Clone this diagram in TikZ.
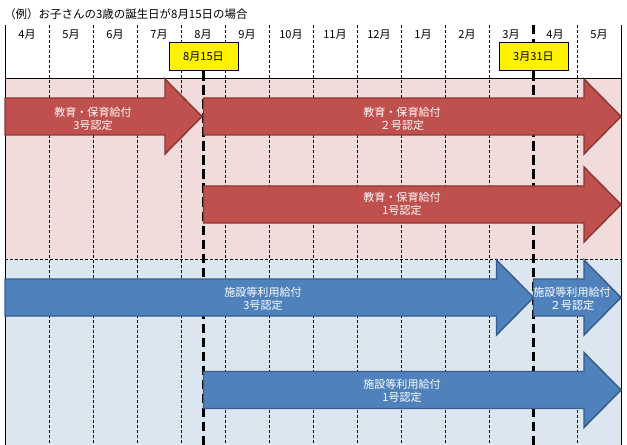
\documentclass[tikz,border=0pt]{standalone}
\usepackage{fontspec}
\setmainfont{Noto Sans CJK JP}
\usepackage{xcolor}
\usepackage{tikz}
\usetikzlibrary{positioning}

\definecolor{pinkbg}{HTML}{F2DCDB}
\definecolor{bluebg}{HTML}{DCE6F1}
\definecolor{redfill}{HTML}{C0504D}
\definecolor{redline}{HTML}{8C3836}
\definecolor{bluefill}{HTML}{4F81BD}
\definecolor{blueline}{HTML}{385D8A}

% band arrow: style, x start, x tip, y centre
\newcommand{\bandarrow}[4]{%
  \draw[#1] (#2,#4-18.5) -- (#3-37,#4-18.5) -- (#3-37,#4-37.5) -- (#3,#4)
    -- (#3-37,#4+37.5) -- (#3-37,#4+18.5) -- (#2,#4+18.5) -- cycle;}

\begin{document}
\begin{tikzpicture}[
        x=0.75pt, y=-0.75pt,
        font=\fontsize{8.3}{9.8}\selectfont,
        grid/.style={line width=0.75pt, dash pattern=on 2.25pt off 1.5pt},
        deadline/.style={line width=1.9pt, dash pattern=on 7pt off 3.5pt},
        frame/.style={line width=0.75pt},
        month/.style={inner sep=0pt},
        datebox/.style={draw, fill=yellow, line width=0.75pt, minimum width=51.75pt,
            minimum height=21pt, inner sep=0pt},
        redarr/.style={fill=redfill, draw=redline, line width=1.1pt, line join=miter},
        bluearr/.style={fill=bluefill, draw=blueline, line width=1.1pt, line join=miter},
        lbl/.style={text=white, align=center, inner sep=0pt},
    ]
        \useasboundingbox (0,0) rectangle (627,445);

        % title
        \node[anchor=west, inner sep=0pt, font=\fontsize{8.6}{10}\selectfont] (title) at (4,14)
            {（例）お子さんの3歳の誕生日が8月15日の場合};

        % background bands
        \fill[pinkbg] (5,79) rectangle (621,259);
        \fill[bluebg] (5,259) rectangle (621,445);

        % month columns
        \draw[grid] (49,25) -- (49,445)  (93,25) -- (93,445)  (137,25) -- (137,445)
            (181,25) -- (181,445)  (225,25) -- (225,445)  (269,25) -- (269,445)
            (313,25) -- (313,445)  (357,25) -- (357,445)  (401,25) -- (401,445)
            (445,25) -- (445,445)  (489,25) -- (489,445)  (577,25) -- (577,445);
        \draw[grid] (5,259) -- (621,259);
        \draw[frame] (5,25) -- (5,445)  (621,25) -- (621,445)  (5,79) -- (621,79);

        % month labels
        \node[month] (m4)  at (27,35)  {4月};
        \node[month] (m5)  at (71,35)  {5月};
        \node[month] (m6)  at (115,35) {6月};
        \node[month] (m7)  at (159,35) {7月};
        \node[month] (m8)  at (203,35) {8月};
        \node[month] (m9)  at (247,35) {9月};
        \node[month] (m10) at (291,35) {10月};
        \node[month] (m11) at (335,35) {11月};
        \node[month] (m12) at (379,35) {12月};
        \node[month] (m1)  at (423,35) {1月};
        \node[month] (m2)  at (467,35) {2月};
        \node[month] (m3)  at (511,35) {3月};
        \node[month] (m4b) at (555,35) {4月};
        \node[month] (m5b) at (599,35) {5月};

        % key dates
        \node[datebox] (birth) at (203.5,57) {8月15日};
        \node[datebox] (yearend) at (533.5,57) {3月31日};
        \draw[deadline] (birth.south) -- (203.5,445);
        \draw[deadline] (533.5,25) -- (yearend.north);
        \draw[deadline] (yearend.south) -- (533.5,445);

        % 教育・保育給付
        \bandarrow{redarr}{5}{202}{116.5}
        \bandarrow{redarr}{203.5}{621}{116.5}
        \bandarrow{redarr}{203.5}{621}{204.5}
        \node[lbl] (edu3) at (93,118.5) {教育・保育給付\\3号認定};
        \node[lbl] (edu2) at (402,118.5) {教育・保育給付\\２号認定};
        \node[lbl] (edu1) at (402,203.5) {教育・保育給付\\1号認定};

        % 施設等利用給付
        \bandarrow{bluearr}{5}{533.5}{297.5}
        \bandarrow{bluearr}{533.5}{621}{297.5}
        \bandarrow{bluearr}{203.5}{621}{390}
        \node[lbl] (fac3) at (263,298.5) {施設等利用給付\\3号認定};
        \node[lbl] (fac2) at (572,298.5) {施設等利用給付\\２号認定};
        \node[lbl] (fac1) at (402,391) {施設等利用給付\\1号認定};
    \end{tikzpicture}
\end{document}
